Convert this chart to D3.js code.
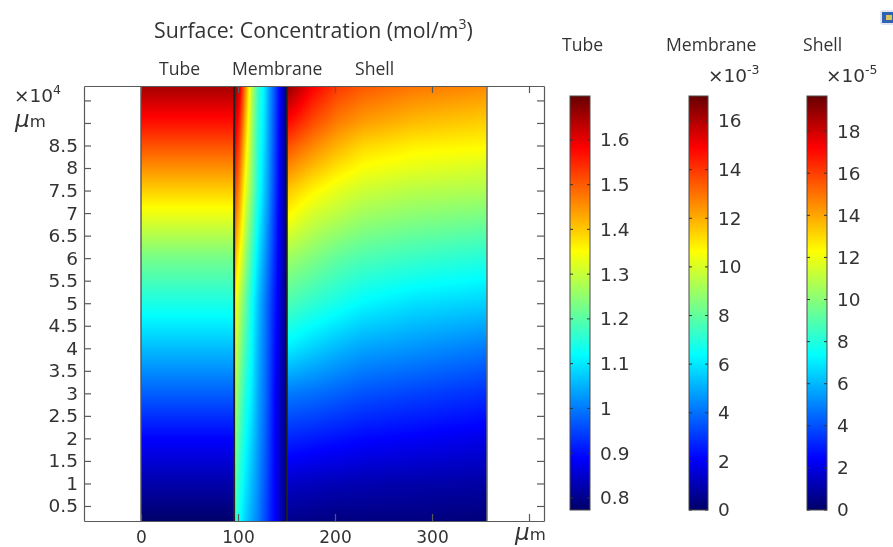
<!DOCTYPE html>
<html>
<head>
<meta charset="utf-8">
<script src="https://cdn.jsdelivr.net/npm/d3@7"></script>
<style>
html,body{margin:0;padding:0;background:#fff;overflow:hidden}
svg{display:block;filter:blur(0.7px)}
text{fill:#333}
.ui{font-family:"Open Sans",sans-serif}
.num{font-family:"DejaVu Sans",sans-serif}
</style>
</head>
<body>
<script>
// ---------- data ----------
const yTickValues = [0.5,1,1.5,2,2.5,3,3.5,4,4.5,5,5.5,6,6.5,7,7.5,8,8.5,9,9.5];
const yTickHidden = [9,9.5];
const xTickValues = [0,100,200,300,400];

const tubeRange = [0.773,1.698];
const membraneRange = [0,17.03];
const shellRange = [0,19.67];
const tubeTicks = [0.8,0.9,1,1.1,1.2,1.3,1.4,1.5,1.6];
const membraneTicks = [0,2,4,6,8,10,12,14,16];
const shellTicks = [0,2,4,6,8,10,12,14,16,18];

const colormapPos = [0,0.125,0.375,0.625,0.875,1];
const colormapColors = ["#000068","#0000ff","#00ffff","#ffff00","#ff0000","#680000"];

// Tube: concentration along the axial position (x10^4 um)
const tubeY = [9.82,9,8,7,6,5,4,3,2,1,0.17];
const tubeValues = [1.652,1.568,1.451,1.337,1.226,1.143,1.06,0.975,0.889,0.824,0.775];
const tubeX = [0,96];

// Membrane: rows at membraneY, columns at membraneX (x10^-3)
const membraneX = [96,102,108,114.4,120.6,126.8,133,139,145.4,150.5];
const membraneY = [9.82,7.5,5.07,2.85,0.17];
const membraneRows = [
  [16.7,15.3,12.5,9.4,7.3,6.2,4.6,3.2,1.5,0],
  [14.0,12.3,10.2,8.5,6.8,5.6,4.3,2.9,1.4,0.2],
  [10.9,9.4,8.0,6.6,5.4,4.4,3.4,2.4,1.2,0.2],
  [9.5,8.0,6.8,6.0,4.9,4.1,3.1,2.0,1.0,0.2],
  [7.5,6.4,5.6,4.9,4.3,3.5,2.7,2.0,0.9,0]
];

// Shell: one list per column at shellX, entries at shellY (x10^-5)
const shellX = [150.5,177,203,229,281,357];
const shellY = [9.82,9,8.5,8,7.5,7,6,5,4,3,2,1,0.17];
const shellColumns = [
  [19.08,17.11,15.74,14.56,13.38,12.49,10.43,8.85,7.08,4.82,3.15,1.57,0.59],
  [17.31,15.74,14.65,13.57,12.49,11.51,9.84,8.26,6.49,4.62,2.95,1.38,0.49],
  [16.13,14.75,13.77,12.79,11.80,11.02,9.24,7.77,6.0,4.33,2.75,1.28,0.39],
  [15.54,14.16,13.08,12.2,11.31,10.52,8.85,7.28,5.61,4.03,2.56,1.18,0.39],
  [14.95,13.57,12.59,11.8,10.92,10.13,8.46,6.79,5.31,3.74,2.36,1.08,0.39],
  [14.56,13.18,12.39,11.51,10.72,9.84,8.06,6.49,4.82,3.34,2.07,0.98,0.3]
];

// ---------- scales ----------
const W = 893, H = 547;
const x = d3.scaleLinear().domain([-58.76,415.46]).range([84,544]);
const y = d3.scaleLinear().domain([0.167,9.82]).range([521,86]);
const colormap = d3.scaleLinear().domain(colormapPos).range(colormapColors).clamp(true);

const svg = d3.select("body").append("svg").attr("width",W).attr("height",H);

// ---------- surface ----------
function surface(xs, ys, rows, range){
  const t = d3.scaleLinear().domain(range).range([0,1]);
  const columns = d3.transpose(rows).map(c => d3.scaleLinear().domain(ys).range(c));
  return (ux, uy) => {
    const vals = columns.map(f => f(uy));
    return colormap(t(d3.scaleLinear().domain(xs).range(vals).clamp(true)(ux)));
  };
}
const domains = [
  {x0:0,x1:96,fn:surface(tubeX,tubeY,tubeValues.map(v=>[v,v]),tubeRange)},
  {x0:96,x1:150.5,fn:surface(membraneX,membraneY,membraneRows,membraneRange)},
  {x0:150.5,x1:356.7,fn:surface(shellX,shellY,d3.transpose(shellColumns),shellRange)}
];
const [py0,py1] = [y(9.82),y(0.167)];
const canvas = document.createElement("canvas");
canvas.width = Math.round(x(356.7)-x(0));
canvas.height = Math.round(py1-py0);
const ctx = canvas.getContext("2d");
const originX = x(0);
for(let px=0;px<canvas.width;px++){
  const ux = x.invert(originX+px+0.5);
  const d = domains.find(k => ux<=k.x1) || domains[2];
  for(let py=0;py<canvas.height;py++){
    ctx.fillStyle = d.fn(ux, y.invert(py0+py+0.5));
    ctx.fillRect(px,py,1,1);
  }
}
svg.append("image").attr("x",originX).attr("y",py0)
  .attr("width",canvas.width).attr("height",canvas.height)
  .attr("href",canvas.toDataURL());

// domain borders
svg.append("g").selectAll("line").data([
  {v:0,c:"#555",w:1.4},{v:96,c:"#222",w:2},{v:150.5,c:"#222",w:1.6},{v:356.7,c:"#6b6b60",w:1.5}
]).join("line")
  .attr("x1",d=>x(d.v)).attr("x2",d=>x(d.v)).attr("y1",py0).attr("y2",py1)
  .attr("stroke",d=>d.c).attr("stroke-width",d=>d.w);

// ---------- axes ----------
function styleAxis(g,size){
  g.selectAll("path,line").attr("stroke","#5a5a5a").attr("stroke-width",1.2);
  g.selectAll("text").attr("fill","#3a3a3a").attr("class","num").style("font-size",(size||18.5)+"px");
}
const fmtY = v => yTickHidden.includes(v) ? "" : d3.format("~g")(v);
svg.append("g").attr("transform",`translate(${x.range()[0]},0)`)
  .call(d3.axisLeft(y).tickValues(yTickValues).tickFormat(fmtY).tickSize(-7).tickPadding(6).tickSizeOuter(0)).call(g=>styleAxis(g));
svg.append("g").attr("transform",`translate(${x.range()[1]},0)`)
  .call(d3.axisRight(y).tickValues(yTickValues).tickFormat("").tickSize(-7).tickSizeOuter(0)).call(g=>styleAxis(g));
svg.append("g").attr("transform",`translate(0,${y.range()[0]})`)
  .call(d3.axisBottom(x).tickValues(xTickValues).tickFormat(v=>v===400?"":v).tickSize(-7).tickPadding(10).tickSizeOuter(0)).call(g=>styleAxis(g,17));
svg.append("g").attr("transform",`translate(0,${y.range()[1]})`)
  .call(d3.axisTop(x).tickValues(xTickValues).tickFormat("").tickSize(-7).tickSizeOuter(0)).call(g=>styleAxis(g));

// ---------- text ----------
function label(tx,ty,str,size,cls){
  return svg.append("text").attr("x",tx).attr("y",ty).attr("class",cls||"ui").style("font-size",size+"px").text(str);
}
const title = svg.append("text").attr("x",154).attr("y",38).attr("class","ui").style("font-size","21.3px");
title.append("tspan").text("Surface: Concentration (mol/m");
title.append("tspan").attr("dy",-9).style("font-size","14px").text("3");
title.append("tspan").attr("dy",9).text(")");

const plotLabels = ["Tube","Membrane","Shell"];
[159,232,355].forEach((px,i)=>label(px,75,plotLabels[i],17.6));
[562,666,803].forEach((px,i)=>label(px,51,plotLabels[i],17.6));

function sci(tx,ty,exp){
  const t = svg.append("text").attr("x",tx).attr("y",ty).attr("class","num").style("font-size","18.5px");
  t.append("tspan").text("\u00d710");
  t.append("tspan").attr("dy",-8).style("font-size","12.5px").text(exp);
}
sci(14,102,"4");
sci(708,82,"-3");
sci(826,82,"-5");

function micro(tx,ty){
  const t = svg.append("text").attr("x",tx).attr("y",ty).attr("class","num");
  t.append("tspan").style("font-size","23px").style("font-style","italic").text("\u03bc");
  t.append("tspan").style("font-size","16.5px").text("m");
}
micro(15,127);
micro(515,540);

// ---------- colour bars ----------
const defs = svg.append("defs");
const grad = defs.append("linearGradient").attr("id","jet").attr("x1",0).attr("x2",0).attr("y1",1).attr("y2",0);
grad.selectAll("stop").data(colormapPos).join("stop")
  .attr("offset",d=>d).attr("stop-color",(d,i)=>colormapColors[i]);

const bars = [
  {x0:570,x1:590,domain:tubeRange,ticks:tubeTicks},
  {x0:689,x1:708,domain:membraneRange,ticks:membraneTicks},
  {x0:807,x1:827,domain:shellRange,ticks:shellTicks}
];
bars.forEach(b=>{
  const s = d3.scaleLinear().domain(b.domain).range([510,96]);
  const g = svg.append("g");
  g.append("rect").attr("x",b.x0).attr("y",96).attr("width",b.x1-b.x0).attr("height",414)
    .attr("fill","url(#jet)").attr("stroke","#4a4a4a").attr("stroke-width",1);
  g.selectAll("line.l").data(b.ticks).join("line").attr("class","l")
    .attr("x1",b.x0).attr("x2",b.x0+3).attr("y1",d=>s(d)).attr("y2",d=>s(d)).attr("stroke","#333");
  g.selectAll("line.r").data(b.ticks).join("line").attr("class","r")
    .attr("x1",b.x1-3).attr("x2",b.x1).attr("y1",d=>s(d)).attr("y2",d=>s(d)).attr("stroke","#333");
  svg.append("g").attr("transform",`translate(${b.x1},0)`)
    .call(d3.axisRight(s).tickValues(b.ticks).tickFormat(d3.format("~g")).tickSize(0).tickPadding(10))
    .call(a=>a.select("path").remove())
    .call(a=>a.selectAll("text").attr("class","num").attr("fill","#3a3a3a").style("font-size","18.5px"));
});

// small window icon in the top right corner
svg.append("rect").attr("x",880).attr("y",10).attr("width",15).attr("height",15).attr("rx",3).attr("fill","#dfe5ee");
svg.append("rect").attr("x",882).attr("y",12).attr("width",12).attr("height",11).attr("fill","#2f62b5");
svg.append("rect").attr("x",886).attr("y",15).attr("width",6).attr("height",5).attr("fill","#d9c65a");
</script>
</body>
</html>
